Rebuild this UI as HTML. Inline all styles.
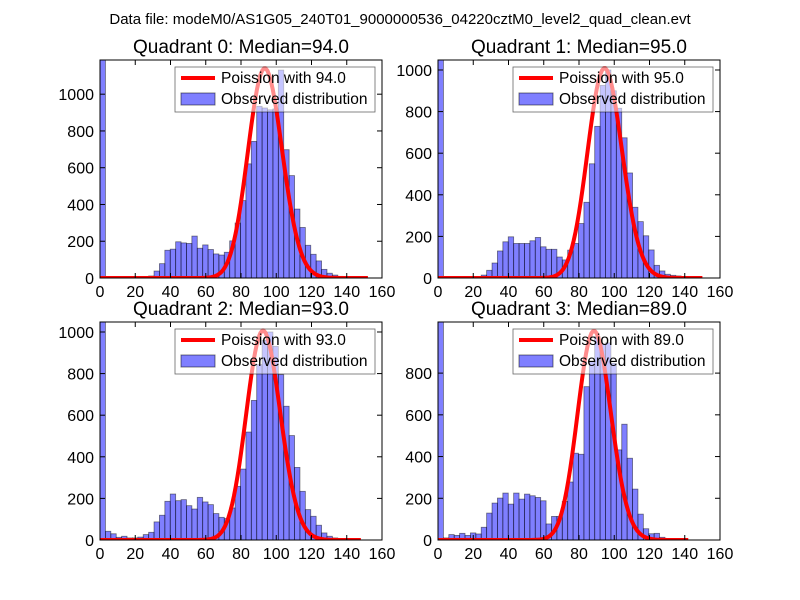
<!DOCTYPE html>
<html><head><meta charset="utf-8"><style>
body{margin:0;background:#fff}
svg{display:block;font-family:"Liberation Sans","DejaVu Sans",sans-serif}
</style></head><body>
<svg id="fig" width="800" height="600" viewBox="0 0 800 600" xmlns="http://www.w3.org/2000/svg">
<rect width="800" height="600" fill="#fff"/>
<text x="400" y="24" font-size="15" text-anchor="middle">Data file: modeM0/AS1G05_240T01_9000000536_04220cztM0_level2_quad_clean.evt</text>
</svg>
<script>
const binWidth = 3.066;
const counts0 = [1300,0,0,0,0,0,0,0,0,11,38,78,151,157,197,191,188,228,162,180,155,131,125,140,202,299,421,621,743,934,925,915,920,1131,698,557,375,275,178,129,93,47,26,16,9,3];
const counts1 = [1300,0,0,0,0,0,0,0,14,37,72,130,174,198,166,166,166,179,195,150,138,138,101,87,134,166,262,364,549,729,926,1000,900,816,674,505,340,271,203,135,61,34,18,13,10];
const counts2 = [1300,42,30,13,18,10,10,14,26,37,87,119,186,221,189,194,165,149,205,183,170,127,109,103,154,258,341,519,671,843,960,1000,931,795,643,502,349,234,146,114,71,34,18,10];
const counts3 = [1300,10,26,22,32,22,34,29,61,129,177,201,225,172,225,196,220,212,204,188,77,113,113,185,278,416,411,735,855,975,940,945,847,432,555,392,244,124,54,30,32,13,5];
const medians = [94.0,95.0,93.0,89.0];
const curvePeaks = [1140,1008,1006,1002];
const curveEnd = [152,150,148,142];
const yMaxes = [1186,1048,1048,1045];
const yTicks = [[0,200,400,600,800,1000],[0,200,400,600,800,1000],[0,200,400,600,800,1000],[0,200,400,600,800]];
const xTicks = [0,20,40,60,80,100,120,140,160];
const allCounts = [counts0,counts1,counts2,counts3];

const NS="http://www.w3.org/2000/svg";
const fig=document.getElementById('fig');
function mk(tag,attrs,parent){const e=document.createElementNS(NS,tag);for(const k in attrs)e.setAttribute(k,attrs[k]);(parent||fig).appendChild(e);return e;}
function lgam(n){let s=0;for(let i=2;i<=n;i++)s+=Math.log(i);return s;}
function pois(k,l){return Math.exp(k*Math.log(l)-l-lgam(k));}

const boxes=[[100,60],[438,60],[100,322],[438,322]];
const W=282,H=218;
for(let p=0;p<4;p++){
  const [L,T]=boxes[p];const ymax=yMaxes[p];
  const g=mk('g',{});
  
  
  const xs=v=>L+v/160*W, ys=v=>T+H-v/ymax*H;
  const cid='clip'+p;
  const cp=mk('clipPath',{id:cid},g);mk('rect',{x:L,y:T,width:W,height:H},cp);
  const plot=mk('g',{'clip-path':'url(#'+cid+')'},g);
  const cs=allCounts[p];
  cs.forEach((c,i)=>{
    if(c<=0)return;
    const x0=xs(i*binWidth),x1=xs((i+1)*binWidth);
    const r=mk('rect',{x:x0,y:ys(c),width:x1-x0,height:ys(0)-ys(c),fill:'rgba(0,0,255,0.5)',stroke:'rgba(0,0,0,0.5)','stroke-width':0.8},plot);
    
    
  });
  const lam=medians[p];const pk=pois(Math.round(lam),lam);
  let d='';
  for(let k=0;k<=curveEnd[p];k++){const v=curvePeaks[p]*pois(k,lam)/pk;d+=(k?'L':'M')+xs(k).toFixed(2)+','+ys(v).toFixed(2);}
  const cur=mk('path',{d:d,fill:'none',stroke:'#ff0000','stroke-width':4,'stroke-linejoin':'round'},plot);
  
  
  mk('rect',{x:L,y:T,width:W,height:H,fill:'none',stroke:'#000','stroke-width':1},g);
  xTicks.forEach(t=>{const x=xs(t);
    mk('line',{x1:x,x2:x,y1:T+H,y2:T+H-5,stroke:'#000'},g);
    mk('line',{x1:x,x2:x,y1:T,y2:T+5,stroke:'#000'},g);
    const tx=mk('text',{x:x,y:T+H+19,'font-size':16,'text-anchor':'middle'},g);tx.textContent=t;
    
    
  });
  yTicks[p].forEach(t=>{const y=ys(t);
    mk('line',{x1:L,x2:L+5,y1:y,y2:y,stroke:'#000'},g);
    mk('line',{x1:L+W,x2:L+W-5,y1:y,y2:y,stroke:'#000'},g);
    const ty=mk('text',{x:L-6,y:y+6,'font-size':16,'text-anchor':'end'},g);ty.textContent=t;
    
    
  });
  const tt=mk('text',{x:L+W/2,y:T-7,'font-size':19,'text-anchor':'middle'},g);
  tt.textContent='Quadrant '+p+': Median='+medians[p].toFixed(1);
  
  
  const lg=mk('g',{},g);
  
  
  mk('rect',{x:L+75,y:T+7,width:200,height:45,fill:'rgba(255,255,255,0.55)',stroke:'#000','stroke-width':0.8,'stroke-opacity':0.6},lg);
  mk('line',{x1:L+81,x2:L+115,y1:T+18,y2:T+18,stroke:'#ff0000','stroke-width':4},lg);
  mk('rect',{x:L+81,y:T+33,width:34,height:12,fill:'rgba(0,0,255,0.5)',stroke:'rgba(0,0,0,0.5)'},lg);
  const l1=mk('text',{x:L+121,y:T+23,'font-size':15.5},lg);l1.textContent='Poission with '+medians[p].toFixed(1);
  
  
  const l2=mk('text',{x:L+121,y:T+44,'font-size':15.5},lg);l2.textContent='Observed distribution';
  
  
}
</script>
</body></html>
